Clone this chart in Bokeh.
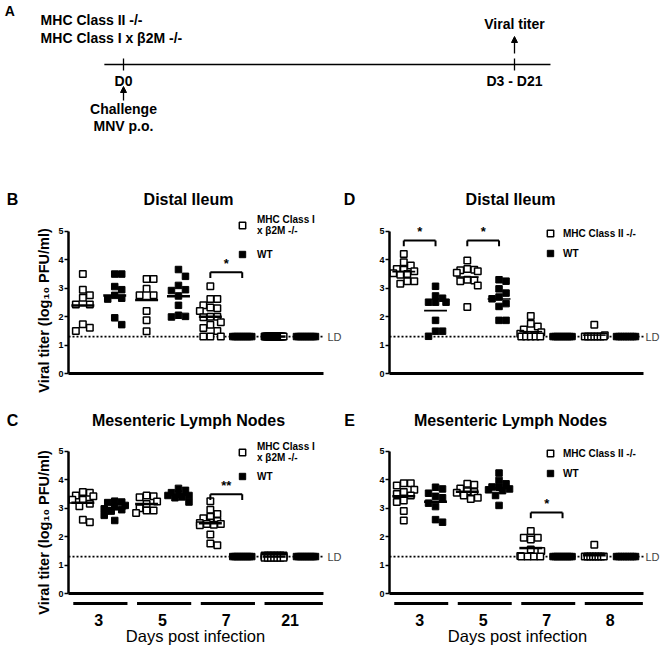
import numpy as np
from bokeh.plotting import figure
from bokeh.models import (Range1d, LinearAxis, FixedTicker, Label, Arrow, NormalHead,
                          Legend, LegendItem)
from bokeh.layouts import column, row
from bokeh.core.properties import value
from bokeh.embed import file_html
from bokeh.resources import INLINE

FONT = "Liberation Sans"
LD = 1.3

# ---------------- data ----------------
days_mhc1 = ["3", "5", "7", "21"]
days_mhc2 = ["3", "5", "7", "8"]

# B: Distal Ileum, MHC Class I x b2M -/- vs WT
b_ko_d3 = [3.5, 2.95, 2.75, 2.67, 2.43, 2.43, 1.73, 1.61, 1.5]
b_wt_d3 = [3.5, 3.5, 3.06, 2.95, 2.75, 2.65, 2.62, 1.96, 1.72]
b_ko_d5 = [3.33, 3.33, 2.98, 2.75, 2.75, 2.2, 1.87, 1.49]
b_wt_d5 = [3.66, 3.42, 3.1, 2.95, 2.92, 2.73, 2.4, 2.05, 2.01, 1.99]
b_ko_d7 = [3.07, 2.62, 2.62, 2.4, 2.32, 2.3, 2.2, 2.0, 2.0, 1.98, 1.8, 1.72, 1.6, 1.5, 1.3, 1.3, 1.3]
b_wt_d7 = [1.3, 1.3, 1.3, 1.3, 1.3, 1.3, 1.3, 1.3, 1.3, 1.3]
b_ko_d21 = [1.3, 1.3, 1.3, 1.3, 1.3, 1.3, 1.3, 1.3, 1.3, 1.3, 1.3, 1.3, 1.3, 1.3,
            1.3, 1.3, 1.3, 1.3, 1.3, 1.3]
b_wt_d21 = [1.3, 1.3, 1.3, 1.3, 1.3, 1.3, 1.3, 1.3, 1.3, 1.3]

# C: Mesenteric Lymph Nodes, MHC Class I x b2M -/- vs WT
c_ko_d3 = [3.57, 3.55, 3.45, 3.42, 3.3, 3.3, 3.16, 3.07, 2.6, 2.51]
c_wt_d3 = [3.25, 3.22, 3.2, 3.1, 3.05, 2.98, 2.95, 2.9, 2.75, 2.57]
c_ko_d5 = [3.45, 3.42, 3.39, 3.24, 3.15, 3.0, 2.92, 2.92, 2.83]
c_wt_d5 = [3.7, 3.63, 3.55, 3.5, 3.45, 3.45, 3.4, 3.37, 3.22]
c_ko_d7 = [3.25, 2.95, 2.8, 2.7, 2.65, 2.55, 2.5, 2.48, 2.45, 2.45, 2.42, 2.4, 2.08, 1.76, 1.7]
c_wt_d7 = [1.3, 1.3, 1.3, 1.3, 1.3, 1.3, 1.3, 1.3, 1.3, 1.3]
c_ko_d21 = [1.34, 1.34, 1.34, 1.34, 1.34, 1.34, 1.34, 1.3, 1.3, 1.3, 1.3, 1.3, 1.3,
            1.26, 1.26, 1.26, 1.26, 1.26, 1.26, 1.26]
c_wt_d21 = [1.3, 1.3, 1.3, 1.3, 1.3, 1.3, 1.3, 1.3, 1.3, 1.3]

# D: Distal Ileum, MHC Class II -/- vs WT
d_ko_d3 = [4.21, 3.92, 3.8, 3.68, 3.65, 3.6, 3.53, 3.5, 3.48, 3.25, 3.25, 3.16]
d_wt_d3 = [3.07, 2.73, 2.65, 2.51, 2.51, 2.51, 1.87, 1.49, 1.49, 1.31]
d_ko_d5 = [3.98, 3.68, 3.65, 3.63, 3.6, 3.55, 3.3, 3.27, 3.25, 3.1, 2.34]
d_wt_d5 = [3.3, 3.25, 2.98, 2.83, 2.69, 2.63, 2.46, 2.36, 1.87, 1.87]
d_ko_d7 = [2.02, 1.75, 1.65, 1.55, 1.45, 1.4, 1.35, 1.3, 1.3, 1.3, 1.3, 1.3]
d_wt_d7 = [1.3, 1.3, 1.3, 1.3, 1.3, 1.3, 1.3, 1.3, 1.3, 1.3]
d_ko_d8 = [1.72, 1.35, 1.3, 1.3, 1.3, 1.3, 1.3, 1.3, 1.3]
d_wt_d8 = [1.3, 1.3, 1.3, 1.3, 1.3, 1.3, 1.3, 1.3, 1.3]

# E: Mesenteric Lymph Nodes, MHC Class II -/- vs WT
e_ko_d3 = [3.88, 3.88, 3.8, 3.65, 3.57, 3.5, 3.45, 3.27, 3.22, 2.9, 2.57]
e_wt_d3 = [3.74, 3.68, 3.53, 3.42, 3.37, 3.18, 3.06, 2.6, 2.51]
e_ko_d5 = [3.86, 3.83, 3.7, 3.6, 3.57, 3.55, 3.45, 3.37, 3.33]
e_wt_d5 = [4.24, 3.98, 3.86, 3.75, 3.74, 3.68, 3.65, 3.62, 3.45, 3.1]
e_ko_d7 = [2.2, 1.96, 1.96, 1.9, 1.55, 1.5, 1.32, 1.3, 1.3, 1.3, 1.3]
e_wt_d7 = [1.3, 1.3, 1.3, 1.3, 1.3, 1.3, 1.3, 1.3, 1.3, 1.3]
e_ko_d8 = [1.72, 1.3, 1.3, 1.3, 1.3, 1.3, 1.3, 1.3, 1.3]
e_wt_d8 = [1.3, 1.3, 1.3, 1.3, 1.3, 1.3, 1.3, 1.3, 1.3]

# significance: (day group index, bracket height, label)
sig_b = [(2, 3.56, "*")]
sig_c = [(2, 3.49, "**")]
sig_d = [(0, 4.68, "*"), (1, 4.68, "*")]
sig_e = [(2, 2.85, "*")]

# timeline (panel A)
strains = ["MHC Class II -/-", "MHC Class I x \u03b22M -/-"]
stage_labels = ["D0", "D3 - D21"]
stage_pos = [0, 1]
stage_notes = [["Challenge", "MNV p.o."], ["Viral titer"]]

PXY = 28.41          # pixels per log unit
KO_OFF, WT_OFF = 0.45, 1.45
BAR_Y = -0.35
INK = "black"


def swarm_offsets(vals, pxy, d=7.0, maxhalf=10.5, ld_half=9.5):
    v = np.asarray(vals, float)
    n = len(v)
    offs = np.zeros(n)
    placed = []
    done = np.zeros(n, bool)
    uniq, counts = np.unique(v, return_counts=True)
    for u, c in zip(uniq, counts):
        if c >= 4:
            idx = np.where(v == u)[0]
            half = min((c - 1) * d / 2.0, ld_half)
            offs[idx] = np.linspace(-half, half, c)
            done[idx] = True
            placed.extend((o, u * pxy) for o in offs[idx])
    cands = [0.0]
    k = 1
    while k * d / 2 <= maxhalf + 1e-9:
        cands += [k * d / 2, -k * d / 2]
        k += 1
    for i in np.argsort(-v, kind="stable"):
        if done[i]:
            continue
        y = v[i] * pxy
        best, best_ov = 0.0, None
        for c in cands:
            ov = sum(max(0.0, d - abs(c - px)) * max(0.0, d - abs(y - py)) for px, py in placed)
            if ov <= 1e-9:
                best, best_ov = c, 0.0
                break
            if best_ov is None or ov < best_ov:
                best, best_ov = c, ov
        offs[i] = best
        placed.append((best, y))
    return offs


def make_panel(letter, title, ko_name, ko_cols, wt_cols, days, sig, W, H, x0px, x8px, y0px,
               letter_px, title_px, ylabel_px, legend_xy, legend_spacing, standoff, mean_lw,
               ld_px, days_py=None, xlabel_py=None):
    pxx = (x8px - x0px) / 8.0
    pxy = PXY
    fx = lambda px: (px - x0px) / pxx
    fy = lambda py: (y0px - py) / pxy
    p = figure(width=W, height=H, x_range=Range1d(fx(0), fx(W)), y_range=Range1d(fy(H), fy(0)),
               min_border=0, x_axis_location=None, y_axis_location=None,
               toolbar_location=None, output_backend="svg", outline_line_color=None)
    p.grid.visible = False

    ya = LinearAxis(fixed_location=0, bounds=(0, 5), ticker=FixedTicker(ticks=[0, 1, 2, 3, 4, 5]),
                    axis_line_width=2.5, major_tick_line_width=1.5, major_tick_in=0,
                    major_tick_out=4, minor_tick_line_color=None,
                    major_label_text_font=FONT, major_label_text_font_size="9px",
                    major_label_text_font_style="bold", major_label_text_color=INK,
                    major_label_standoff=1)
    p.add_layout(ya, "left")
    xa0 = LinearAxis(fixed_location=0, bounds=(0, 8), ticker=FixedTicker(ticks=[]),
                     axis_line_width=3, major_tick_line_color=None, minor_tick_line_color=None,
                     major_label_text_font_size="0px")
    p.add_layout(xa0, "below")

    # LD dotted line
    p.segment(x0=[0], y0=[LD], x1=[8], y1=[LD], line_color=INK, line_width=1.8,
              line_dash="2 2")

    ko_x, ko_y, wt_x, wt_y = [], [], [], []
    mx0, mx1, my = [], [], []
    for g in range(4):
        for cols, off, xs, ys in ((ko_cols, KO_OFF, ko_x, ko_y), (wt_cols, WT_OFF, wt_x, wt_y)):
            vals = cols[g]
            c = 2 * g + off
            o = swarm_offsets(vals, pxy)
            xs.extend(c + o / pxx)
            ys.extend(vals)
            mx0.append(c - 0.36)
            mx1.append(c + 0.36)
            my.append(float(np.mean(vals)))
    ko_r = p.scatter(ko_x, ko_y, marker="square", size=6.5, fill_color="white",
                     line_color=INK, line_width=1.5)
    wt_r = p.scatter(wt_x, wt_y, marker="square", size=6.5, fill_color=INK,
                     line_color=INK, line_width=1)
    p.segment(x0=mx0, y0=my, x1=mx1, y1=my, line_color=INK, line_width=mean_lw)

    # significance brackets
    for g, yb, lab in sig:
        x1, x2 = 2 * g + KO_OFF, 2 * g + WT_OFF
        p.segment(x0=[x1, x1, x2], y0=[yb, yb, yb], x1=[x2, x1, x2],
                  y1=[yb, yb - 0.2, yb - 0.2], line_color=INK, line_width=2)
        p.text(x=[(x1 + x2) / 2], y=[yb + 0.04], text=[lab], text_align="center",
               text_baseline="bottom", text_font=value(FONT), text_font_size="13px",
               text_font_style="bold", text_color=INK)

    # labels
    p.add_layout(Label(x=fx(ld_px), y=LD, text="LD", text_font=FONT, text_font_size="11px",
                       text_color="#444444", text_baseline="middle", text_align="left"))
    p.add_layout(Label(x=fx(title_px[0]), y=fy(title_px[1]), text=title, text_font=FONT,
                       text_font_size="16px", text_font_style="bold", text_align="center",
                       text_baseline="middle", text_color=INK))
    p.add_layout(Label(x=fx(letter_px[0]), y=fy(letter_px[1]), text=letter, text_font=FONT,
                       text_font_size="16px", text_font_style="bold", text_align="center",
                       text_baseline="middle", text_color=INK))
    if ylabel_px is not None:
        p.add_layout(Label(x=fx(ylabel_px[0]), y=fy(ylabel_px[1]),
                           text="Viral titer (log\u2081\u2080 PFU/ml)",
                           angle=np.pi / 2, text_font=FONT, text_font_size="14.5px",
                           text_font_style="bold", text_align="center",
                           text_baseline="middle", text_color=INK))

    leg = Legend(items=[LegendItem(label=ko_name, renderers=[ko_r]),
                        LegendItem(label="WT", renderers=[wt_r])],
                 location=legend_xy, border_line_color=None, background_fill_alpha=0,
                 padding=0, margin=0, spacing=legend_spacing, glyph_width=16,
                 glyph_height=16, label_standoff=standoff, label_height=12,
                 label_text_font=FONT, label_text_font_size="10px",
                 label_text_font_style="bold", label_text_color=INK,
                 label_text_line_height=1.15)
    p.add_layout(leg)

    if days is not None:
        centers = [2 * g + 0.95 for g in range(4)]
        bx0 = [2 * g + 0.15 for g in range(4)]
        bx1 = [2 * g + 1.85 for g in range(3)] + [7.98]
        p.segment(x0=bx0, y0=[BAR_Y] * 4, x1=bx1, y1=[BAR_Y] * 4, line_color=INK,
                  line_width=3)
        bar_py = y0px - BAR_Y * pxy
        xa = LinearAxis(fixed_location=BAR_Y, ticker=FixedTicker(ticks=centers),
                        major_label_overrides={c: d for c, d in zip(centers, days)},
                        axis_line_color=None, major_tick_line_color=None, major_tick_out=0,
                        minor_tick_line_color=None, major_label_text_font=FONT,
                        major_label_text_font_size="16px", major_label_text_font_style="bold",
                        major_label_text_color=INK,
                        major_label_standoff=int(round(days_py - bar_py - 8)))
        p.add_layout(xa, "below")
        p.add_layout(Label(x=fx(title_px[0] + 7), y=fy(xlabel_py), text="Days post infection",
                           text_font=FONT, text_font_size="16.5px", text_align="center",
                           text_baseline="middle", text_color=INK))
    return p


# row 1 spans page y 170..405, row 2 spans 405..645
pB = make_panel("B", "Distal Ileum", "MHC Class I\nx \u03b22M -/-",
                [b_ko_d3, b_ko_d5, b_ko_d7, b_ko_d21], [b_wt_d3, b_wt_d5, b_wt_d7, b_wt_d21],
                None, sig_b, 342, 235, 68, 323, 203, (12, 29), (188, 29), (43, 140),
                (234, 143), 10, 7, 2.5, 327)
pC = make_panel("C", "Mesenteric Lymph Nodes", "MHC Class I\nx \u03b22M -/-",
                [c_ko_d3, c_ko_d5, c_ko_d7, c_ko_d21], [c_wt_d3, c_wt_d5, c_wt_d7, c_wt_d21],
                days_mhc1, sig_c, 342, 240, 68, 323, 188, (12, 15), (188, 15), (43, 127),
                (234, 161), 5, 7, 2.5, 327, days_py=217, xlabel_py=230)
pD = make_panel("D", "Distal Ileum", "MHC Class II -/-",
                [d_ko_d3, d_ko_d5, d_ko_d7, d_ko_d8], [d_wt_d3, d_wt_d5, d_wt_d7, d_wt_d8],
                None, sig_d, 318, 235, 47, 301, 203, (7, 29), (168, 29), None,
                (200, 144), 4, 5, 1.6, 303)
pE = make_panel("E", "Mesenteric Lymph Nodes", "MHC Class II -/-",
                [e_ko_d3, e_ko_d5, e_ko_d7, e_ko_d8], [e_wt_d3, e_wt_d5, e_wt_d7, e_wt_d8],
                days_mhc2, sig_e, 318, 240, 47, 301, 188, (7, 15), (168, 15), None,
                (200, 164), 4, 5, 2.5, 303, days_py=217, xlabel_py=230)

# ---------------- panel A: timeline ----------------
pA = figure(width=660, height=170, x_range=Range1d(-0.3146, 1.3734), y_range=Range1d(170, 0),
            min_border=0, x_axis_location=None, y_axis_location=None,
            toolbar_location=None, output_backend="svg", outline_line_color=None)
pA.grid.visible = False
tf = dict(text_font=value(FONT), text_font_style="bold", text_font_size="14px",
          text_baseline="middle", text_color=INK)
pA.text(x=[-0.304], y=[10], text=["A"], text_align="left", **tf)
pA.text(x=[-0.212, -0.212], y=[19, 37], text=strains, text_align="left", **tf)
pA.segment(x0=[-0.049], y0=[64], x1=[1.092], y1=[64], line_color=INK, line_width=1.3)
pA.segment(x0=stage_pos, y0=[58, 58], x1=stage_pos, y1=[70, 70], line_color=INK,
           line_width=1.3)
pA.text(x=stage_pos, y=[80, 80], text=stage_labels, text_align="center", **tf)
pA.text(x=[stage_pos[0], stage_pos[0]], y=[108, 125], text=stage_notes[0],
        text_align="center", **tf)
pA.text(x=[stage_pos[1]], y=[23], text=stage_notes[1], text_align="center", **tf)
pA.add_layout(Arrow(end=NormalHead(size=6, fill_color=INK, line_color=INK),
                    x_start=stage_pos[0], y_start=100, x_end=stage_pos[0], y_end=86,
                    line_width=1.3))
pA.add_layout(Arrow(end=NormalHead(size=6, fill_color=INK, line_color=INK),
                    x_start=stage_pos[1], y_start=53, x_end=stage_pos[1], y_end=36,
                    line_width=1.3))

layout = column(pA, row(pB, pD), row(pC, pE))
open("out.html", "w").write(file_html(layout, INLINE))
